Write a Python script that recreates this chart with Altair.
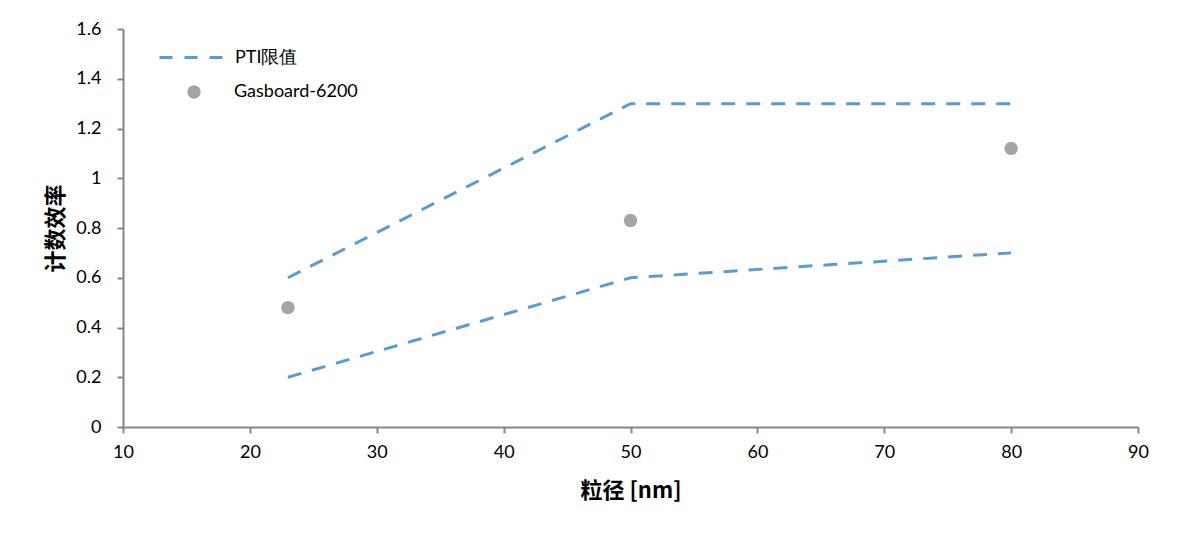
import altair as alt
import pandas as pd

# data
line_x = [23, 50, 80]
upper_y = [0.6, 1.3, 1.3]
lower_y = [0.2, 0.6, 0.7]
pt_x = [23, 50, 80]
pt_y = [0.48, 0.83, 1.12]
x_ticks = [10, 20, 30, 40, 50, 60, 70, 80, 90]
y_ticks = [0, 0.2, 0.4, 0.6, 0.8, 1.0, 1.2, 1.4, 1.6]

line_df = pd.DataFrame({
    "x": line_x + line_x,
    "y": upper_y + lower_y,
    "bound": ["upper"] * 3 + ["lower"] * 3,
    "series": ["PTI限值"] * 6,
})
pt_df = pd.DataFrame({"x": pt_x, "y": pt_y, "series": ["Gasboard-6200"] * 3})

LABEL_FONT = "Lato"
TITLE_FONT = "Noto Sans CJK SC"
AXIS_COLOR = "#868686"

x_enc = alt.X("x:Q", scale=alt.Scale(domain=[10, 90], nice=False),
              axis=alt.Axis(values=x_ticks, title="粒径 [nm]", grid=False,
                            labelFlush=False, labelOverlap=False,
                            titleY=63, titleBaseline="middle", labelPadding=10))
y_enc = alt.Y("y:Q", scale=alt.Scale(domain=[0, 1.6], nice=False),
              axis=alt.Axis(values=y_ticks, title="计数效率", grid=False,
                            labelFlush=False, labelOverlap=False,
                            labelExpr="datum.value == 0 ? '0' : (datum.value == 1 ? '1' : format(datum.value, '.1f'))",
                            titleX=-68, titleY=199, titleAngle=-90,
                            titleBaseline="middle", titleAlign="center",
                            labelPadding=16))

lines = alt.Chart(line_df).mark_line(
    strokeDash=[14, 11], strokeWidth=3, interpolate="linear"
).encode(
    x=x_enc, y=y_enc, detail="bound:N",
    color=alt.Color("series:N",
                    scale=alt.Scale(domain=["PTI限值"], range=["#5B9BD5"]),
                    legend=alt.Legend(title=None, orient="none", legendX=35, legendY=-5,
                                      symbolType="stroke", symbolSize=4096,
                                      symbolStrokeWidth=3, symbolDash=[13, 12],
                                      labelOffset=10, padding=0,
                                      labelFont=LABEL_FONT, labelFontSize=18,
                                      labelColor="#000000")),
)

points = alt.Chart(pt_df).mark_circle(size=180, opacity=1).encode(
    x=x_enc, y=y_enc,
    color=alt.Color("series:N",
                    scale=alt.Scale(domain=["Gasboard-6200"], range=["#A5A5A5"]),
                    legend=alt.Legend(title=None, orient="none", legendX=62, legendY=54,
                                      symbolType="circle", symbolSize=180,
                                      labelOffset=31, padding=0,
                                      labelFont=LABEL_FONT, labelFontSize=18,
                                      labelColor="#000000")),
)

chart = alt.layer(lines, points).resolve_scale(color="independent").properties(
    width=1015, height=398,
    background="white",
    autosize=alt.AutoSizeParams(type="none"),
    padding={"left": 115, "top": 21, "right": 54, "bottom": 110},
).configure_view(stroke=None).configure_axis(
    domainColor=AXIS_COLOR, domainWidth=2, tickColor=AXIS_COLOR, tickWidth=2,
    tickSize=6, labelFont=LABEL_FONT, labelFontSize=18, labelColor="#000000",
    titleFont=TITLE_FONT, titleFontSize=22, titleFontWeight="bold", titleColor="#000000",
).configure_legend(labelFont=LABEL_FONT, labelFontSize=18, labelColor="#000000")

chart.save("out.html", embed_options={"renderer": "svg", "actions": False})
